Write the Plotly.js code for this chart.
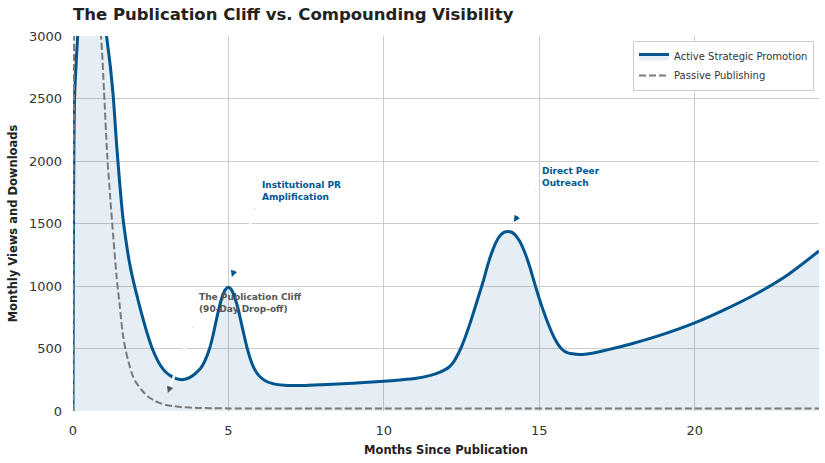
<!DOCTYPE html>
<html>
<head>
<meta charset="utf-8">
<script src="https://cdn.plot.ly/plotly-3.0.1.min.js"></script>
<style>
  html, body { margin: 0; padding: 0; background: #ffffff; }
  #chart { width: 825px; height: 463px; }
</style>
</head>
<body>
<div id="chart"></div>
<script>
// Active strategic promotion (launch peak is clipped above 3000)
const activeMonths = [
  0, 0.05, 0.15, 0.3, 0.5, 0.7, 0.9, 1.0, 1.08, 1.2, 1.3, 1.4, 1.5, 1.6, 1.7, 1.8, 1.9,
  2.0, 2.1, 2.2, 2.3, 2.4, 2.5, 2.6, 2.7, 2.8, 2.9, 3.0, 3.1, 3.2, 3.3, 3.4, 3.5, 3.6, 3.7, 3.8, 3.9,
  4.0, 4.1, 4.2, 4.3, 4.4, 4.5, 4.6, 4.7, 4.8, 4.9, 5.0, 5.1, 5.2, 5.3, 5.4, 5.5, 5.6, 5.7, 5.8, 5.9,
  6.0, 6.2, 6.4, 6.6, 6.8, 7.0, 7.5, 8.0, 9.0, 10.0, 10.5, 11.0, 11.5, 11.75,
  12.0, 12.1, 12.2, 12.3, 12.4, 12.5, 12.6, 12.7, 12.8, 12.9, 13.0, 13.1, 13.2, 13.3, 13.4, 13.5, 13.6, 13.7, 13.8, 13.9,
  14.0, 14.1, 14.2, 14.3, 14.4, 14.5, 14.6, 14.7, 14.8, 14.9, 15.0, 15.1, 15.2, 15.3, 15.4, 15.5, 15.6, 15.7, 15.8, 15.9,
  16.0, 16.2, 16.4, 16.7, 17.0, 17.5, 18.0, 19.0, 20.0, 21.0, 22.0, 23.0, 24.0
];
const activeViews = [
  0, 2500, 3000, 3600, 3900, 3800, 3400, 3180, 3000, 2760, 2500, 2140, 1830, 1560, 1370, 1210, 1085,
  980, 880, 785, 695, 610, 535, 470, 415, 370, 335, 308, 288, 273, 261, 254, 251, 254, 262, 275, 292,
  315, 340, 380, 435, 505, 600, 715, 825, 915, 970, 990, 970, 910, 830, 720, 610, 505, 420, 355, 310,
  278, 240, 221, 211, 207, 205, 205, 210, 222, 238, 248, 260, 285, 305,
  335, 352, 378, 415, 462, 515, 578, 648, 722, 800, 880, 960, 1040, 1130, 1215, 1285, 1345, 1390, 1418, 1433,
  1437, 1432, 1415, 1385, 1345, 1290, 1225, 1150, 1065, 980, 900, 825, 755, 690, 630, 578, 535, 502, 480, 467,
  460, 455, 453, 462, 478, 508, 540, 615, 705, 815, 940, 1090, 1280
];

// Passive publishing
const passiveMonths = [0, 0.03, 0.06, 0.3, 0.6, 0.9, 1.0, 1.1, 1.2, 1.3, 1.4, 1.5, 1.6, 1.7, 1.8, 1.9, 2.0, 2.2, 2.4, 2.6, 2.8, 3.0, 3.25, 3.5, 4.0, 4.5, 5.0, 6.0, 8.0, 10.0, 12.0, 14.0, 16.0, 18.0, 20.0, 22.0, 24.0];
const passiveViews  = [0, 2500, 3200, 3900, 3700, 3000, 2550, 2050, 1700, 1380, 1080, 850, 620, 480, 380, 295, 240, 170, 118, 85, 63, 48, 38, 31, 25, 22, 21, 20, 20, 20, 20, 20, 20, 20, 20, 20, 20];

const xTicks = [0, 5, 10, 15, 20];
const yTicks = [0, 500, 1000, 1500, 2000, 2500, 3000];

// Callouts: label position, arrow tip, arrow tail offset in px
const callouts = [
  { text: 'Institutional PR<br>Amplification', x: 6.0, y: 1760, tipX: 5.11, tipY: 1072, ax: 24, ay: -70, color: '#00558f' },
  { text: 'Direct Peer<br>Outreach', x: 15.02, y: 1872, tipX: 14.18, tipY: 1512, ax: 22, ay: -34, color: '#00558f' },
  { text: 'The Publication Cliff<br>(90-Day Drop-off)', x: 3.99, y: 864, tipX: 3.05, tipY: 144, ax: 25, ay: -67, color: '#555555' }
];

const BLUE = '#00558f';
const GRAY = '#7a7a7a';
const FONT = 'DejaVu Sans, Verdana, sans-serif';

const traces = [
  {
    x: activeMonths,
    y: activeViews,
    name: 'Active Strategic Promotion',
    type: 'scatter',
    mode: 'lines',
    line: { color: BLUE, width: 3, shape: 'spline', smoothing: 0.6, simplify: false },
    fill: 'tozeroy',
    fillcolor: 'rgba(0, 85, 150, 0.1)',
    hoverinfo: 'skip'
  },
  {
    x: passiveMonths,
    y: passiveViews,
    name: 'Passive Publishing',
    type: 'scatter',
    mode: 'lines',
    line: { color: GRAY, width: 2, dash: '7px,3px', shape: 'spline', smoothing: 0.8, simplify: false },
    hoverinfo: 'skip'
  }
];

const annotations = [];
callouts.forEach(c => {
  annotations.push({
    x: c.x, y: c.y, xref: 'x', yref: 'y',
    text: c.text, showarrow: false,
    xanchor: 'left', yanchor: 'middle', align: 'left',
    font: { family: FONT, size: 9, color: c.color, weight: 'bold' }
  });
  // coloured arrow with head
  annotations.push({
    x: c.tipX, y: c.tipY, xref: 'x', yref: 'y',
    text: '', showarrow: true, arrowhead: 2, arrowsize: 1.3,
    arrowwidth: 1, arrowcolor: c.color,
    ax: c.ax, ay: c.ay
  });
  // white shaft drawn over it, stopping at the back of the head
  annotations.push({
    x: c.tipX, y: c.tipY, xref: 'x', yref: 'y',
    text: '', showarrow: true, arrowhead: 0, standoff: 7,
    arrowwidth: 2.5, arrowcolor: '#ffffff',
    ax: c.ax, ay: c.ay
  });
});

const layout = {
  width: 825,
  height: 463,
  margin: { t: 36, r: 6, b: 52, l: 73 },
  paper_bgcolor: '#ffffff',
  plot_bgcolor: '#ffffff',
  font: { family: FONT, color: '#333333' },
  title: {
    text: 'The Publication Cliff vs. Compounding Visibility',
    font: { family: FONT, size: 16.5, color: '#222222', weight: 'bold' },
    xref: 'paper', x: 0, xanchor: 'left',
    yref: 'container', y: 0.97, yanchor: 'middle'
  },
  xaxis: {
    range: [0, 24],
    tickvals: xTicks,
    ticktext: xTicks.map(String),
    showgrid: true,
    gridcolor: '#cccccc',
    gridwidth: 1,
    zeroline: false,
    showline: false,
    ticks: '',
    ticklabelstandoff: 10,
    tickfont: { family: FONT, size: 13, color: '#333333' },
    title: {
      text: 'Months Since Publication',
      font: { family: FONT, size: 11.5, color: '#222222', weight: 'bold' },
      standoff: 8
    }
  },
  yaxis: {
    range: [0, 3000],
    tickvals: yTicks,
    ticktext: yTicks.map(String),
    showgrid: true,
    gridcolor: '#cccccc',
    gridwidth: 1,
    zeroline: false,
    showline: false,
    ticks: '',
    ticklabelstandoff: 10,
    tickfont: { family: FONT, size: 13, color: '#333333' },
    title: {
      text: 'Monthly Views and Downloads',
      font: { family: FONT, size: 11.5, color: '#222222', weight: 'bold' },
      standoff: 8
    }
  },
  showlegend: true,
  legend: {
    x: 0.9933, y: 0.9867, xanchor: 'right', yanchor: 'top',
    bgcolor: '#ffffff',
    bordercolor: '#cccccc',
    borderwidth: 1,
    font: { family: FONT, size: 10, color: '#333333' },
    itemwidth: 30
  },
  annotations: annotations
};

Plotly.newPlot('chart', traces, layout, { displayModeBar: false, staticPlot: true });
</script>
</body>
</html>
